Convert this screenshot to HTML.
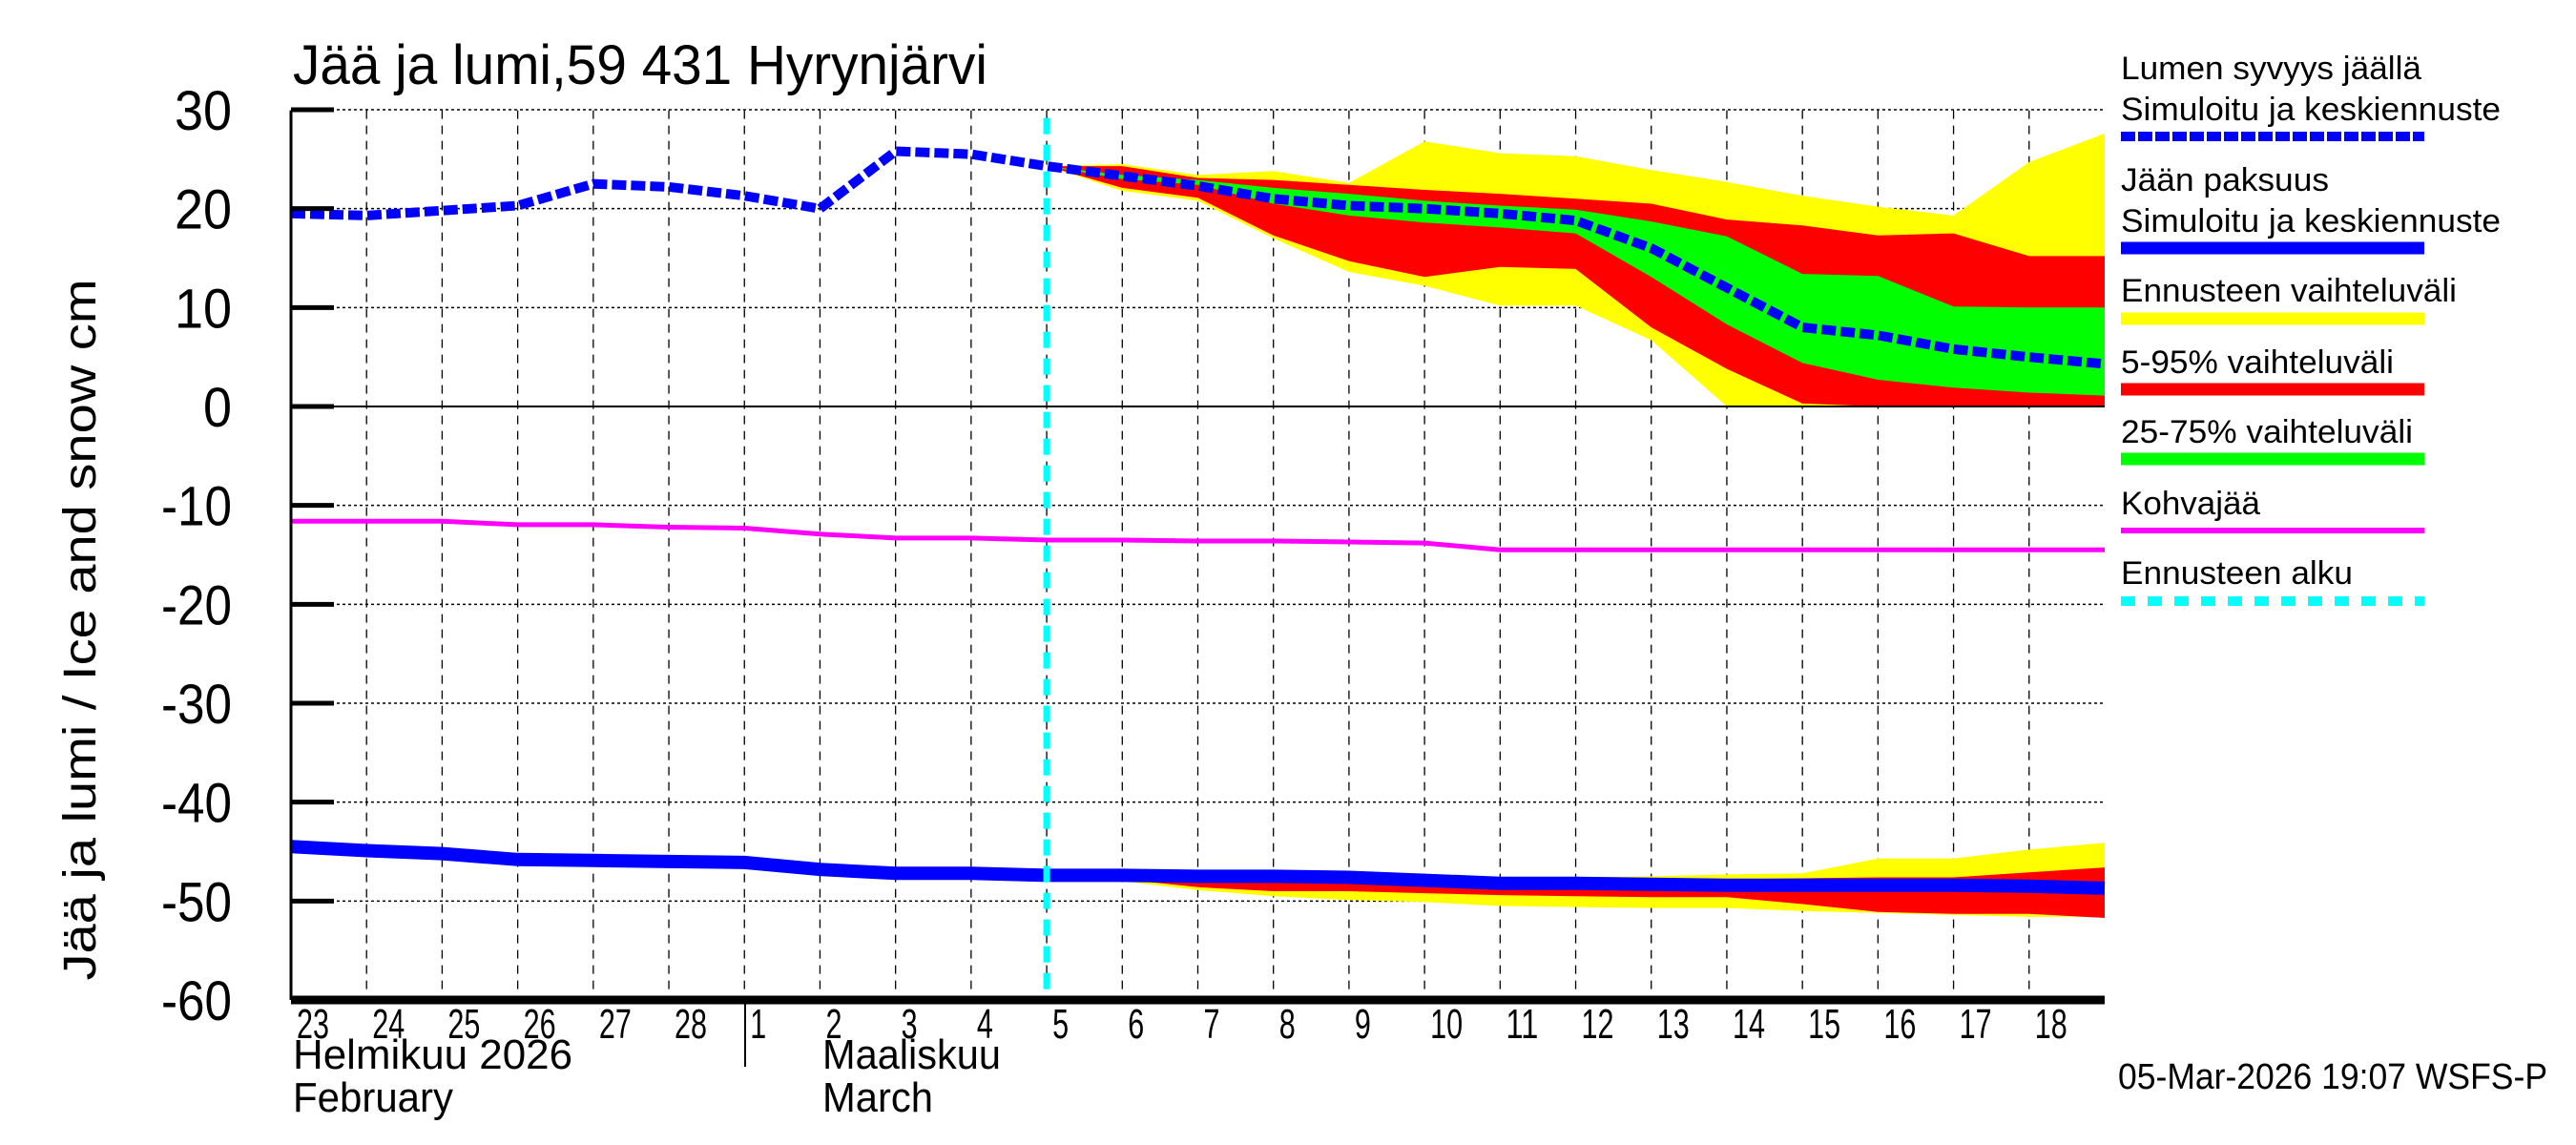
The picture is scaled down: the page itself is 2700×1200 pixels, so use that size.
<!DOCTYPE html>
<html><head><meta charset="utf-8"><style>
html,body{margin:0;padding:0;background:#fff;}
svg{display:block;font-family:"Liberation Sans",sans-serif;}
</style></head><body>
<svg id="chart" width="2700" height="1200" viewBox="0 0 2700 1200" xmlns="http://www.w3.org/2000/svg">
<rect x="0" y="0" width="2700" height="1200" fill="#fff"/>
<g id="grid"></g>
<g id="bands"></g>
<g id="lines"></g>
<g id="axes"></g>
<text x="307" y="88" font-size="58" textLength="728" lengthAdjust="spacingAndGlyphs">Jää ja lumi,59 431 Hyrynjärvi</text>
<text transform="translate(100,660) rotate(-90)" text-anchor="middle" font-size="48" textLength="735" lengthAdjust="spacingAndGlyphs">Jää ja lumi / Ice and snow    cm</text>
<text x="307" y="1120" font-size="44" textLength="293" lengthAdjust="spacingAndGlyphs">Helmikuu  2026</text>
<text x="307" y="1165" font-size="44" textLength="168" lengthAdjust="spacingAndGlyphs">February</text>
<text x="862" y="1120" font-size="44" textLength="187" lengthAdjust="spacingAndGlyphs">Maaliskuu</text>
<text x="862" y="1165" font-size="44" textLength="116" lengthAdjust="spacingAndGlyphs">March</text>
<line x1="781" y1="1052" x2="781" y2="1118" stroke="#000" stroke-width="2"/>
<text x="2670" y="1141" text-anchor="end" font-size="38" textLength="450" lengthAdjust="spacingAndGlyphs">05-Mar-2026 19:07 WSFS-P</text>
<g id="legend">
<text x="2223" y="83" font-size="34" textLength="315" lengthAdjust="spacingAndGlyphs">Lumen syvyys jäällä</text>
<text x="2223" y="126" font-size="34" textLength="398" lengthAdjust="spacingAndGlyphs">Simuloitu ja keskiennuste</text>
<line x1="2223" y1="143" x2="2541" y2="143" stroke="#0000ff" stroke-width="10" stroke-dasharray="15 3"/>
<text x="2223" y="200" font-size="34" textLength="218" lengthAdjust="spacingAndGlyphs">Jään paksuus</text>
<text x="2223" y="243" font-size="34" textLength="398" lengthAdjust="spacingAndGlyphs">Simuloitu ja keskiennuste</text>
<line x1="2223" y1="260" x2="2541" y2="260" stroke="#0000ff" stroke-width="13"/>
<text x="2223" y="316" font-size="34" textLength="352" lengthAdjust="spacingAndGlyphs">Ennusteen vaihteluväli</text>
<line x1="2223" y1="334" x2="2541" y2="334" stroke="#ffff00" stroke-width="13"/>
<text x="2223" y="391" font-size="34" textLength="286" lengthAdjust="spacingAndGlyphs">5-95% vaihteluväli</text>
<line x1="2223" y1="408" x2="2541" y2="408" stroke="#ff0000" stroke-width="13"/>
<text x="2223" y="464" font-size="34" textLength="306" lengthAdjust="spacingAndGlyphs">25-75% vaihteluväli</text>
<line x1="2223" y1="481" x2="2541" y2="481" stroke="#00ff00" stroke-width="13"/>
<text x="2223" y="539" font-size="34" textLength="146" lengthAdjust="spacingAndGlyphs">Kohvajää</text>
<line x1="2223" y1="556" x2="2541" y2="556" stroke="#ff00ff" stroke-width="6"/>
<text x="2223" y="612" font-size="34" textLength="243" lengthAdjust="spacingAndGlyphs">Ennusteen alku</text>
<line x1="2223" y1="630" x2="2541" y2="630" stroke="#00ffff" stroke-width="10" stroke-dasharray="15 13"/>
</g>
</svg>
<script>
const dayLabels = ["23","24","25","26","27","28","1","2","3","4","5","6","7","8","9","10","11","12","13","14","15","16","17","18"];
const yTicks = [30,20,10,0,-10,-20,-30,-40,-50,-60];
const forecastStartDay = 10;
const snowDays = [0,1,2,3,4,5,6,7,8,9,10,11,12,13,14,15,16,17,18,19,20,21,22,23,24];
const snowMedian = [19.5,19.3,19.8,20.3,22.5,22.2,21.3,20.0,25.8,25.5,24.3,23.3,22.3,21.0,20.3,20.0,19.5,18.8,16.0,12.0,8.0,7.2,5.8,5.0,4.3];
const bandDays = [10,11,12,13,14,15,16,17,18,19,20,21,22,23,24];
const snowYellowTop = [24.3,24.5,23.4,23.8,22.6,26.8,25.6,25.3,23.9,22.7,21.3,20.2,19.3,24.7,27.6];
const snowRedTop = [24.3,24.3,23.1,22.9,22.4,21.9,21.5,21.0,20.5,18.9,18.3,17.3,17.5,15.2,15.2];
const snowGreenTop = [24.3,23.4,22.9,22.1,21.5,20.8,20.3,19.9,18.7,17.2,13.4,13.2,10.1,10.0,10.0];
const snowGreenBottom = [24.3,23.0,22.4,20.5,19.3,18.6,18.1,17.5,13.1,8.3,4.4,2.7,1.9,1.4,1.1];
const snowRedBottom = [24.3,22.1,21.1,17.3,14.7,13.1,14.1,13.9,8.0,3.8,0.3,0.0,0.0,0.0,0.0];
const snowYellowBottom = [24.3,21.8,20.8,17.0,13.6,12.2,10.2,10.2,6.7,0.0,0.0,0.0,0.0,0.0,0.0];
const iceMedian = [-44.5,-44.9,-45.2,-45.8,-45.9,-46.0,-46.1,-46.8,-47.2,-47.2,-47.4,-47.4,-47.5,-47.5,-47.6,-47.9,-48.2,-48.2,-48.3,-48.4,-48.4,-48.4,-48.4,-48.5,-48.7];
const iceYellowTop = [-47.4,-47.4,-47.5,-47.5,-47.6,-47.9,-47.8,-47.6,-47.5,-47.3,-47.2,-45.7,-45.7,-44.8,-44.1];
const iceRedTop = [-47.4,-47.4,-47.5,-47.5,-47.6,-47.9,-48.0,-48.0,-47.9,-47.8,-47.7,-47.6,-47.6,-47.1,-46.6];
const iceRedBottom = [-47.4,-47.8,-48.6,-49.0,-49.0,-49.2,-49.4,-49.5,-49.6,-49.6,-50.3,-51.1,-51.3,-51.3,-51.7];
const iceYellowBottom = [-47.4,-48.0,-48.9,-49.5,-49.9,-50.1,-50.5,-50.6,-50.7,-50.7,-51.0,-51.2,-51.4,-51.6,-51.6];
const slushDays = [0,1,2,3,4,5,6,7,8,9,10,11,12,13,14,15,16,17,18,19,20,21,22,23,24];
const slushValues = [-11.6,-11.6,-11.6,-11.95,-11.95,-12.2,-12.3,-12.9,-13.3,-13.3,-13.5,-13.5,-13.6,-13.6,-13.7,-13.8,-14.5,-14.5,-14.5,-14.5,-14.5,-14.5,-14.5,-14.5,-14.5];

const X0=305, X1=2206, NDAYS=24, Y0=426, PX=10.367, YTOP=115.6, YBOT=1048;
function xs(d){return X0+(X1-X0)*d/NDAYS;}
function ys(v){return Y0-v*PX;}
const NS="http://www.w3.org/2000/svg";
function mk(parent,tag,attrs){const e=document.createElementNS(NS,tag);for(const k in attrs)e.setAttribute(k,attrs[k]);document.getElementById(parent).appendChild(e);return e;}
function pts(days,vals){return days.map((d,i)=>xs(d).toFixed(1)+","+ys(vals[i]).toFixed(1));}
function band(days,top,bot,color,name){
  const p=pts(days,top).concat(pts(days,bot).reverse()).join(" ");
  const el=mk("bands","polygon",{points:p,fill:color});
  
  
}
for(let d=1; d<NDAYS; d++){
  const el=mk("grid","line",{x1:xs(d),x2:xs(d),y1:YTOP,y2:YBOT,stroke:"#000","stroke-width":1.3,"stroke-dasharray":"9 7"});
  
  
}
yTicks.forEach(v=>{
  if(v===0||v===-60) return;
  const el=mk("grid","line",{x1:X0,x2:X1,y1:ys(v),y2:ys(v),stroke:"#000","stroke-width":1.5,"stroke-dasharray":"3 3"});
  
  
});
band(bandDays,snowYellowTop,snowYellowBottom,"#ffff00","snow-range-band");
band(bandDays,snowRedTop,snowRedBottom,"#ff0000","snow-5-95-band");
band(bandDays,snowGreenTop,snowGreenBottom,"#00ff00","snow-25-75-band");
band(bandDays,iceYellowTop,iceYellowBottom,"#ffff00","ice-range-band");
band(bandDays,iceRedTop,iceRedBottom,"#ff0000","ice-5-95-band");
let z=mk("lines","line",{x1:X0,x2:X1,y1:ys(0),y2:ys(0),stroke:"#000","stroke-width":2});


let l=mk("lines","polyline",{points:pts(slushDays,slushValues).join(" "),fill:"none",stroke:"#ff00ff","stroke-width":5});


l=mk("lines","polyline",{points:pts(snowDays,iceMedian).join(" "),fill:"none",stroke:"#0000ff","stroke-width":14});


l=mk("lines","polyline",{points:pts(snowDays,snowMedian).join(" "),fill:"none",stroke:"#0000ff","stroke-width":10,"stroke-dasharray":"15 5"});


l=mk("lines","line",{x1:xs(forecastStartDay),x2:xs(forecastStartDay),y1:YTOP+8,y2:YBOT,stroke:"#00ffff","stroke-width":7,"stroke-dasharray":"17 11"});


let a=mk("axes","line",{x1:X0,x2:X0,y1:YTOP,y2:YBOT,stroke:"#000","stroke-width":3});


a=mk("axes","line",{x1:X0,x2:X1,y1:YBOT,y2:YBOT,stroke:"#000","stroke-width":9});


yTicks.forEach(v=>{
  const t=mk("axes","line",{x1:X0,x2:X0+45,y1:ys(v),y2:ys(v),stroke:"#000","stroke-width":5});
  
  
  const s=String(v);
  const tx=mk("axes","text",{x:243,y:ys(v)+21,"text-anchor":"end","font-size":58,textLength:s.length===1?30:(s.length===2?60:74),lengthAdjust:"spacingAndGlyphs"});
  tx.textContent=s;
  
  
});
dayLabels.forEach((s,i)=>{
  const tx=mk("axes","text",{x:xs(i)+6,y:1088,"font-size":44,textLength:s.length>1?34:17,lengthAdjust:"spacingAndGlyphs"});
  tx.textContent=s;
  
  
});
</script>
</body></html>
